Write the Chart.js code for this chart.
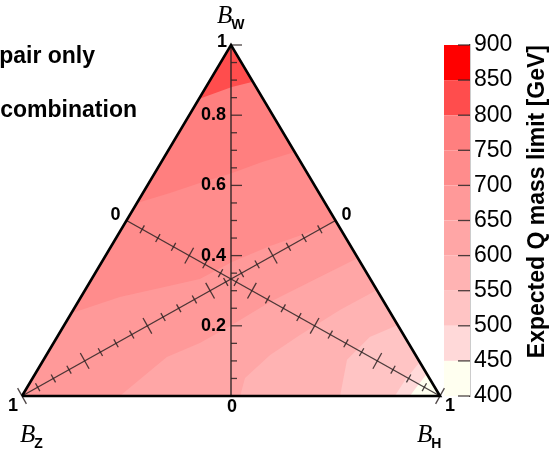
<!DOCTYPE html>
<html>
<head>
<meta charset="utf-8">
<title>Expected Q mass limit</title>
<script src="https://cdn.jsdelivr.net/npm/chart.js@4.4.1/dist/chart.umd.min.js"></script>
<style>
  html, body { margin: 0; padding: 0; background: #ffffff; }
  canvas { display: block; }
</style>
</head>
<body>
<canvas id="chart" width="553" height="450"></canvas>
<script>
// z levels (GeV) and the colour of each band between two levels
const levels = [400, 450, 500, 550, 600, 650, 700, 750, 800, 850, 900];
const bandColors = ['#fffff0', '#ffd9d9', '#ffc4c4', '#ffb3b3', '#ffa6a6',
                    '#ff9999', '#ff8c8c', '#ff7f7f', '#ff4d4d', '#ff0000'];

// contour lines, as [B_H, B_W] pairs (B_Z = 1 - B_H - B_W)
const contour450 = [[0.928, 0], [0.932, 0.031], [0.937, 0.063]];
const contour500 = [[0.892, 0], [0.894, 0.046], [0.903, 0.097]];
const contour550 = [[0.761, 0], [0.726, 0.103], [0.748, 0.168], [0.798, 0.202]];
const contour600 = [[0.522, 0], [0.508, 0.051], [0.535, 0.117], [0.578, 0.174], [0.638, 0.245], [0.698, 0.302]];
const contour650 = [[0.234, 0], [0.291, 0.111], [0.350, 0.151], [0.401, 0.202], [0.459, 0.268], [0.526, 0.325], [0.607, 0.393]];
const contour700 = [[0, 0.236], [0.093, 0.282], [0.176, 0.308], [0.259, 0.333], [0.311, 0.382], [0.380, 0.427], [0.456, 0.467], [0.504, 0.496]];
const contour750 = [[0, 0.550], [0.065, 0.578], [0.122, 0.607], [0.185, 0.635], [0.241, 0.667], [0.305, 0.695]];
const contour800 = [[0, 0.846], [0.062, 0.880], [0.105, 0.895]];

const contourLevels = [450, 500, 550, 600, 650, 700, 750, 800];
const contourLines = [contour450, contour500, contour550, contour600, contour650, contour700, contour750, contour800];

// texts
const wTickLabels = [0.2, 0.4, 0.6, 0.8];
const legendLines = ['pair only', 'combination'];
const zTitle = 'Expected Q mass limit [GeV]';

// layout: one unit of x is 418 px, colour bar sits right of the triangle
const X_UNIT_PX = 418;
const X_MAX = 1 + 30 / X_UNIT_PX;
const CB_LEFT = 1 + 4 / X_UNIT_PX;
const CB_TICK = 1 + 24 / X_UNIT_PX;
const AXIS_COLOR = 'rgba(45,35,35,0.85)';

const SANS = '"Liberation Sans", Arial, Helvetica, sans-serif';
const SERIF = '"Liberation Serif", "Times New Roman", serif';
Chart.defaults.font.family = SANS;

// ternary (B_H, B_W) -> plot coordinates
function toXY(h, w) {
  return { x: h + w / 2, y: w };
}

function fillDataset(points, color, order, yAxisID) {
  return {
    data: points,
    yAxisID: yAxisID || 'y',
    showLine: true,
    fill: 'shape',
    backgroundColor: color,
    borderWidth: 0,
    pointRadius: 0,
    tension: 0,
    order: order
  };
}

function lineDataset(points, color, width, order) {
  return {
    data: points,
    showLine: true,
    fill: false,
    borderColor: color,
    borderWidth: width,
    borderJoinStyle: 'miter',
    pointRadius: 0,
    tension: 0,
    clip: false,
    order: order
  };
}

function perpAngle(chart, a, b) {
  const { x, y } = chart.scales;
  const dx = x.getPixelForValue(b.x) - x.getPixelForValue(a.x);
  const dy = y.getPixelForValue(b.y) - y.getPixelForValue(a.y);
  return Math.atan2(dy, dx) * 180 / Math.PI + 90;
}

function tickDataset(points, radii, rotation, yAxisID) {
  return {
    data: points,
    yAxisID: yAxisID || 'y',
    showLine: false,
    pointStyle: 'line',
    pointRadius: radii,
    pointHoverRadius: radii,
    pointRotation: rotation,
    pointBorderColor: AXIS_COLOR,
    pointBackgroundColor: AXIS_COLOR,
    pointBorderWidth: 1.3,
    clip: false,
    order: 10
  };
}

const datasets = [];

// === contour bands: whole triangle first, then one layer per level ===
datasets.push(fillDataset([toXY(0, 0), toXY(1, 0), toXY(0, 1)], bandColors[0], 200));
contourLines.forEach((line, i) => {
  const pts = line.map(([h, w]) => toXY(h, w));
  pts.push(toXY(0, 1));                         // round the B_W corner
  if (line[0][1] === 0) pts.push(toXY(0, 0));   // started on the base: round the B_Z corner too
  const band = levels.indexOf(contourLevels[i]);
  datasets.push(fillDataset(pts, bandColors[band], 199 - i));
});

// === colour bar ===
for (let i = 0; i < bandColors.length; i++) {
  const lo = levels[i], hi = levels[i + 1];
  datasets.push(fillDataset([
    { x: CB_LEFT, y: lo }, { x: X_MAX, y: lo }, { x: X_MAX, y: hi }, { x: CB_LEFT, y: hi }
  ], bandColors[i], 150, 'y2'));
}
datasets.push(tickDataset(levels.map(v => ({ x: CB_TICK, y: v })), 6, 0, 'y2'));

// === the three ternary axes ===
datasets.push(lineDataset([toXY(0.5, 0), toXY(0, 1)], AXIS_COLOR, 1.6, 12));       // B_W
datasets.push(lineDataset([toXY(0, 0.5), toXY(1, 0)], AXIS_COLOR, 1.4, 12));       // B_H
datasets.push(lineDataset([toXY(0.5, 0.5), toXY(0, 0)], AXIS_COLOR, 1.4, 12));     // B_Z

const wTicks = [], wRadii = [], hTicks = [], zTicks = [], hzRadii = [];
for (let k = 1; k <= 20; k++) {
  const t = k / 20;
  const major = k % 4 === 0;
  const rw = major ? 5.5 : 3;
  wTicks.push({ x: 0.5 + rw / X_UNIT_PX, y: t });
  wRadii.push(rw);
  hTicks.push(toXY(t, (1 - t) / 2));
  zTicks.push(toXY((1 - t) / 2, (1 - t) / 2));
  hzRadii.push(major ? 9 : 4.5);
}
datasets.push(tickDataset(wTicks, wRadii, 0));
datasets.push(tickDataset(hTicks, hzRadii, ctx => perpAngle(ctx.chart, toXY(0, 0.5), toXY(1, 0))));
datasets.push(tickDataset(zTicks, hzRadii, ctx => perpAngle(ctx.chart, toXY(0.5, 0.5), toXY(0, 0))));

// triangle outline on top
datasets.push(lineDataset([toXY(0, 0), toXY(1, 0), toXY(0, 1), toXY(0, 0)], '#000000', 2.6, 1));

const textPlugin = {
  id: 'ternaryText',
  afterDraw(chart) {
    const { ctx, scales: { x, y } } = chart;
    const at = (h, w) => [x.getPixelForValue(h + w / 2), y.getPixelForValue(w)];
    ctx.save();
    ctx.fillStyle = '#000';

    // B_W tick labels
    ctx.font = `bold 18px ${SANS}`;
    ctx.textAlign = 'right';
    ctx.textBaseline = 'middle';
    wTickLabels.forEach(v => {
      const [px, py] = at((1 - v) / 2, v);
      ctx.fillText(v.toFixed(1), px - 5, py);
    });

    // 0 / 1 at the ends of each axis
    ctx.textAlign = 'center';
    const ends = [
      { p: at(0, 1), t: '1', dx: -9, dy: -3 },
      { p: at(0.5, 0), t: '0', dx: 1, dy: 11 },
      { p: at(0, 0), t: '1', dx: -9, dy: 10 },
      { p: at(1, 0), t: '1', dx: 10, dy: 10 },
      { p: at(0, 0.5), t: '0', dx: -11, dy: -5 },
      { p: at(0.5, 0.5), t: '0', dx: 11, dy: -5 }
    ];
    ends.forEach(e => ctx.fillText(e.t, e.p[0] + e.dx, e.p[1] + e.dy));

    // corner names B_W, B_Z, B_H
    ctx.textAlign = 'left';
    ctx.textBaseline = 'alphabetic';
    const names = [
      { p: at(0, 1), sub: 'W', dx: -14, dy: -22 },
      { p: at(0, 0), sub: 'Z', dx: -2, dy: 46 },
      { p: at(1, 0), sub: 'H', dx: -23, dy: 46 }
    ];
    names.forEach(n => {
      const bx = n.p[0] + n.dx, by = n.p[1] + n.dy;
      ctx.font = `italic 25px ${SERIF}`;
      ctx.fillText('B', bx, by);
      const bw = ctx.measureText('B').width;
      ctx.font = `bold 14px ${SANS}`;
      ctx.fillText(n.sub, bx + bw - 1, by + 6);
    });

    // legend text, cut by the left edge as in the original
    ctx.font = `bold 23px ${SANS}`;
    ctx.textAlign = 'right';
    ctx.fillText(legendLines[0], 95, 63);
    ctx.fillText(legendLines[1], 137, 117);

    // colour bar title
    ctx.save();
    ctx.translate(544, chart.chartArea.top);
    ctx.rotate(-Math.PI / 2);
    ctx.textAlign = 'right';
    ctx.fillText(zTitle, 0, 0);
    ctx.restore();

    ctx.restore();
  }
};

new Chart(document.getElementById('chart'), {
  type: 'scatter',
  data: { datasets },
  options: {
    responsive: false,
    animation: false,
    devicePixelRatio: 1,
    events: [],
    layout: { padding: { left: 22, right: 0, top: 45, bottom: 54 } },
    scales: {
      x: { type: 'linear', min: 0, max: X_MAX, display: false },
      y: { type: 'linear', min: 0, max: 1, display: false },
      y2: {
        type: 'linear',
        position: 'right',
        min: 400,
        max: 900,
        afterFit: scale => { scale.width = 83; },
        border: { display: true, color: '#555555', width: 1.3 },
        grid: { drawOnChartArea: false, drawTicks: false },
        ticks: {
          stepSize: 50,
          autoSkip: false,
          padding: 4,
          color: '#000',
          font: { size: 23 }
        }
      }
    },
    plugins: {
      legend: { display: false },
      tooltip: { enabled: false }
    }
  },
  plugins: [textPlugin]
});
</script>
</body>
</html>
